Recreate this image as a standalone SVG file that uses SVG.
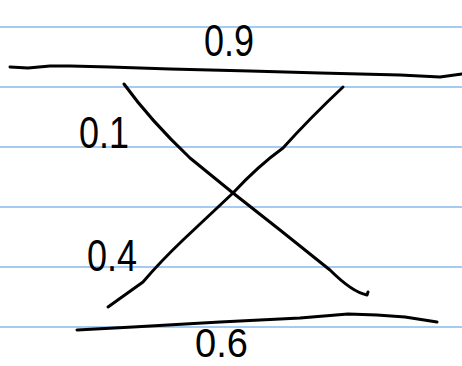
<svg xmlns="http://www.w3.org/2000/svg" width="462" height="366" viewBox="0 0 462 366">
<style>
.rule{stroke:#a6cbf3;stroke-width:2;fill:none}
.ink{stroke:#000;stroke-width:3;fill:none;stroke-linecap:round;stroke-linejoin:round}
.lbl{font-family:"Liberation Sans",Arial,sans-serif;font-size:40px;fill:#000}
</style>
<rect width="462" height="366" fill="#fff"/>
<g id="rulings">
<line class="rule" x1="0" y1="27" x2="462" y2="27"/>
<line class="rule" x1="0" y1="87" x2="462" y2="87"/>
<line class="rule" x1="0" y1="147" x2="462" y2="147"/>
<line class="rule" x1="0" y1="207" x2="462" y2="207"/>
<line class="rule" x1="0" y1="267" x2="462" y2="267"/>
<line class="rule" x1="0" y1="327" x2="462" y2="327"/>
</g>
<g id="connectors">
<path id="top-line" class="ink" d="M10,67 L28,68 L50,66 L70,66 L110,67 L170,69 L250,71 L320,73 L400,75 L440,77 L462,74"/>
<path id="bottom-line" class="ink" d="M77,330 L133,327 L220,322 L300,318 L348,314 L377,315 L405,317 L437,322"/>
<path id="descending" class="ink" d="M124,84 Q150,120 190,158 L233,193 L280,230 L330,270 Q352,292 367,295 L368,292"/>
<path id="ascending" class="ink" d="M343,87 Q310,118 283,148 Q258,166 233,193 L183,240 Q160,262 143,282 L108,307"/>
</g>
<g id="label-09"><text class="lbl" transform="translate(204,56) scale(0.9,1.1)">0.9</text></g>
<g id="label-01"><text class="lbl" transform="translate(79,148) scale(0.9,1.1)">0.1</text></g>
<g id="label-04"><text class="lbl" transform="translate(87,271) scale(0.9,1.1)">0.4</text></g>
<g id="label-06"><text class="lbl" transform="translate(195,357) scale(0.95,1.0)">0.6</text></g>
</svg>
